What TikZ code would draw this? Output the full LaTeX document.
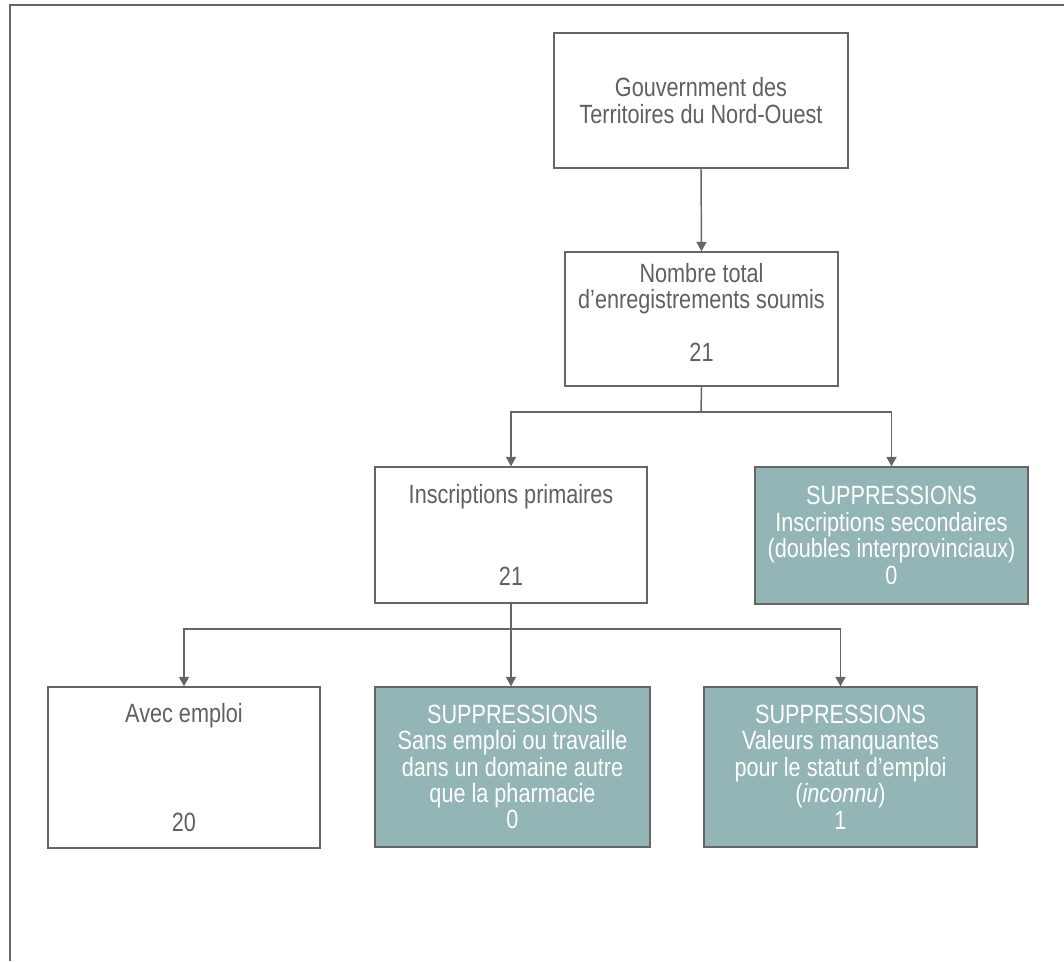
\documentclass[tikz,border=0pt]{standalone}
\usepackage{fontspec}
\setmainfont{Liberation Sans}[FakeStretch=0.82]
\usetikzlibrary{arrows.meta}
\definecolor{lc}{HTML}{666666}
\definecolor{tc}{HTML}{606060}
\definecolor{tealfill}{HTML}{93B5B5}
\begin{document}
\begin{tikzpicture}[x=0.75pt,y=-0.75pt,
  box/.style={draw=lc, line width=1.1pt, fill=white, text=tc, align=center,
    font=\fontsize{19.8pt}{19.8pt}\selectfont, inner sep=0pt},
  supbox/.style={box, fill=tealfill, text=white},
  conn/.style={draw=lc, line width=1.1pt},
  arr/.style={conn, -{Triangle[length=7pt,width=7.5pt]}}]
\useasboundingbox (0,0) rectangle (1064,961);
\draw[lc, line width=1.5pt] (10,961) -- (10,5) -- (1064,5);
\node[box, minimum width=220.5pt, minimum height=101.25pt] (b1) at (701,100.5)
  {Gouvernment des\\Territoires du Nord-Ouest};
\node[box, minimum width=204.75pt, minimum height=100.5pt] (b2) at (701.5,319)
  {Nombre total\\d’enregistrements soumis\\[19.5pt]21\rule[-10pt]{0pt}{10pt}};
\node[box, minimum width=204pt, minimum height=102pt] (b3) at (511,535)
  {Inscriptions primaires\\[41.25pt]21};
\node[supbox, minimum width=204.75pt, minimum height=102.75pt] (b4) at (891.5,535.5)
  {SUPPRESSIONS\\Inscriptions secondaires\\(doubles interprovinciaux)\\0};
\node[box, minimum width=204pt, minimum height=120.75pt] (b5) at (184,767.5)
  {Avec emploi\\[61.5pt]20};
\node[supbox, minimum width=206.25pt, minimum height=120pt] (b6) at (512.5,767)
  {SUPPRESSIONS\\Sans emploi ou travaille\\dans un domaine autre\\que la pharmacie\\0};
\node[supbox, minimum width=204.75pt, minimum height=120pt] (b7) at (840.5,767)
  {SUPPRESSIONS\\Valeurs manquantes\\pour le statut d’emploi\\(\textit{inconnu})\\1};
\coordinate (j1) at (701,412);
\coordinate (j2) at (511,629);
\draw[arr] (b1.south) -- (b2.north);
\draw[conn] (b2.south) -- (j1);
\draw[arr] (j1) -| (b3.north);
\draw[arr] (j1) -| (b4.north);
\draw[conn] (b3.south) -- (j2);
\draw[arr] (j2) -| (b5.north);
\draw[arr] (j2) -- (j2 |- b6.north);
\draw[arr] (j2) -| (b7.north);
\end{tikzpicture}
\end{document}
